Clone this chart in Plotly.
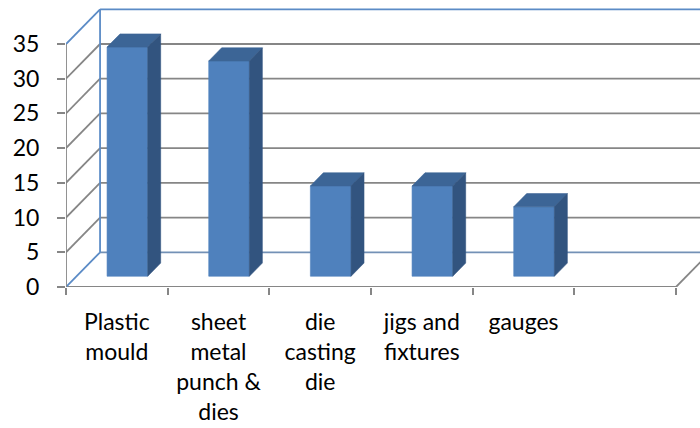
import plotly.graph_objects as go

# Chart data
categories = ["Plastic<br>mould", "sheet<br>metal<br>punch &<br>dies", "die<br>casting<br>die",
              "jigs and<br>fixtures", "gauges"]
values = [33, 31, 13, 13, 10]
n_slots = 6                      # one trailing empty category slot
y_ticks = [0, 5, 10, 15, 20, 25, 30, 35]
y_max = 35

# Oblique 3D projection: full depth shifts by (DX, DY) in data units
DX, DY = 0.335, 5.0
D0, D1 = 0.31, 0.69              # bar depth span (fraction of full depth)
HW = 0.2                         # bar half width in category units

GRID = "#868686"
WALL = "#5B8BC6"
FLOOR_BACK = "#7391B6"
FRONT = "#4F81BD"
TOP = "#3C6596"
SIDE = "#32547F"

fig = go.Figure()


def seg(xs, ys, color, width=1.8):
    fig.add_trace(go.Scatter(x=xs, y=ys, mode="lines", line=dict(color=color, width=width),
                             hoverinfo="skip", showlegend=False))


def face(xs, ys, color):
    fig.add_trace(go.Scatter(x=xs, y=ys, mode="lines", fill="toself", fillcolor=color,
                             line=dict(color=color, width=0.6), hoverinfo="skip",
                             showlegend=False))


x_end = n_slots + DX

# back wall gridlines and left wall gridlines
for v in y_ticks[1:-1]:
    seg([DX, x_end], [v + DY, v + DY], GRID)
    seg([0, DX], [v, v + DY], GRID)

# floor
seg([0, n_slots], [0, 0], GRID)
seg([n_slots, n_slots + DX], [0, DY], GRID)
seg([DX, x_end], [DY, DY], FLOOR_BACK)

# wall borders
seg([DX, x_end], [y_max + DY, y_max + DY], WALL)
seg([DX, DX], [DY, y_max + DY], WALL)
seg([0, DX], [y_max, y_max + DY], WALL)
seg([0, DX], [0, DY], WALL)

# front value axis line
seg([0, 0], [0, y_max], GRID)

# bars
for i, v in enumerate(values):
    cx = i + 0.5
    xl0, xr0 = cx - HW + D0 * DX, cx + HW + D0 * DX
    xl1, xr1 = cx - HW + D1 * DX, cx + HW + D1 * DX
    yb0, yb1 = D0 * DY, D1 * DY
    face([xl0, xr0, xr0, xl0, xl0], [yb0, yb0, v + yb0, v + yb0, yb0], FRONT)
    face([xl0, xr0, xr1, xl1, xl0], [v + yb0, v + yb0, v + yb1, v + yb1, v + yb0], TOP)
    face([xr0, xr1, xr1, xr0, xr0], [yb0, yb1, v + yb1, v + yb0, yb0], SIDE)

W, H = 700, 428
L, B = 66, 141
px_x = (676 - 66) / n_slots
px_y = (287 - 44) / y_max

font = dict(family="Lato, 'Open Sans', sans-serif", size=23, color="#000000")

fig.update_layout(
    width=W, height=H,
    margin=dict(l=L, r=0, t=0, b=B, pad=0),
    paper_bgcolor="white", plot_bgcolor="white",
    showlegend=False,
    font=font,
    xaxis=dict(
        range=[0, (W - L) / px_x],
        tickmode="array",
        tickvals=[i + 0.5 for i in range(len(categories))],
        ticktext=categories,
        ticks="", showgrid=False, zeroline=False, showline=False,
        ticklabelstandoff=19,
        tickfont=font,
        minor=dict(tickmode="array", tickvals=list(range(n_slots + 1)), ticks="outside",
                   ticklen=7, tickwidth=1.5, tickcolor=GRID, showgrid=False),
        fixedrange=True,
    ),
    yaxis=dict(
        range=[0, (H - B) / px_y],
        tickmode="array", tickvals=y_ticks,
        ticks="outside", ticklen=8, tickwidth=1.5, tickcolor=GRID,
        showgrid=False, zeroline=False, showline=False,
        ticklabelstandoff=13,
        tickfont=font,
        fixedrange=True,
    ),
)

fig.write_html("out.html")
